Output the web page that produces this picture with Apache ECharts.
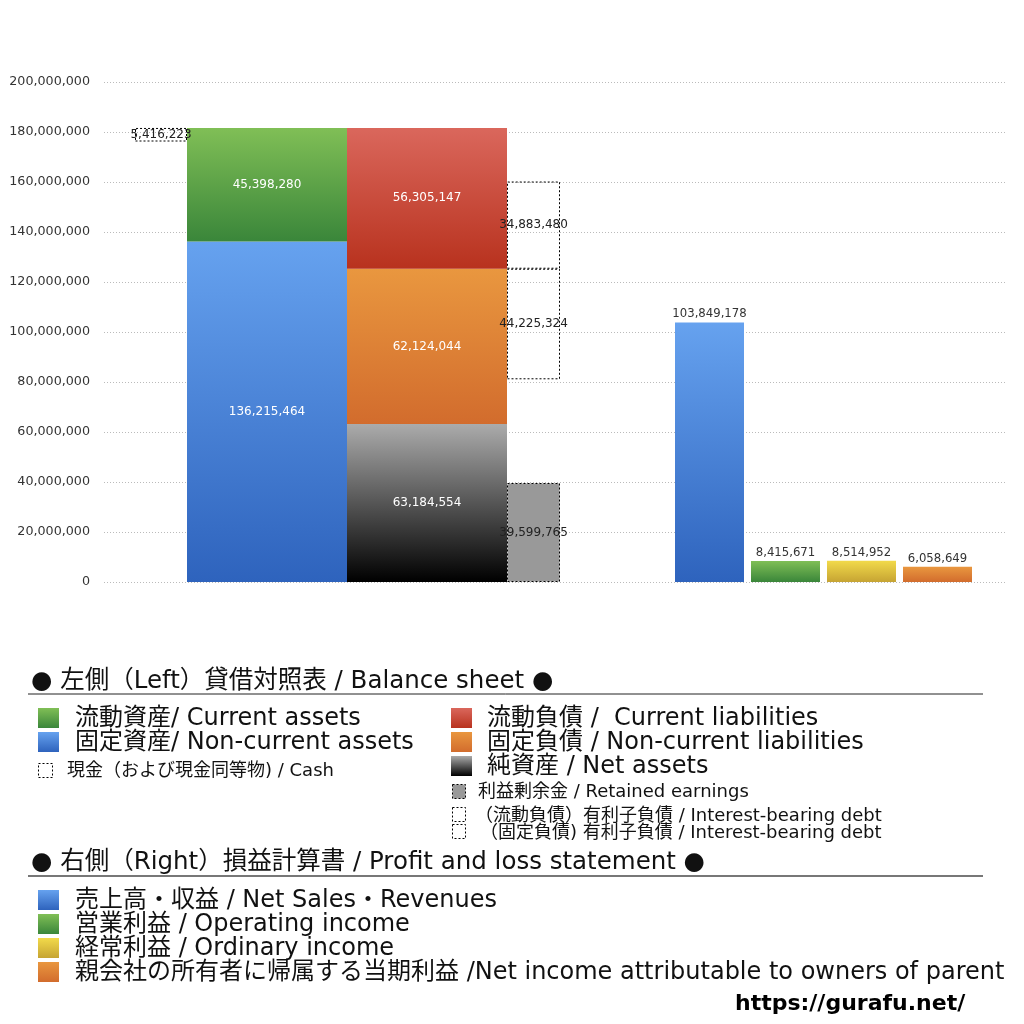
<!DOCTYPE html>
<html><head><meta charset="utf-8">
<script src="https://cdn.jsdelivr.net/npm/echarts@6/dist/echarts.min.js"></script>
<style>html,body{margin:0;padding:0;background:#fff}#c{width:1024px;height:1024px}</style>
</head><body><div id="c"></div>
<script>
// ---- Data ----
const yTicks = [0, 20000000, 40000000, 60000000, 80000000, 100000000, 120000000, 140000000, 160000000, 180000000, 200000000];
const bsCategory = ['貸借対照表'];
const currentAssets = 45398280;
const nonCurrentAssets = 136215464;
const cash = 5416223;
const currentLiabilities = 56305147;
const nonCurrentLiabilities = 62124044;
const netAssets = 63184554;
const retainedEarnings = 39599765;
const currentDebt = 34883480;
const nonCurrentDebt = 44225324;
const plCategories = ['売上高・収益', '営業利益', '経常利益', '親会社の所有者に帰属する当期利益'];
const plValues = [103849178, 8415671, 8514952, 6058649];

const legendBS = [
  '● 左側（Left）貸借対照表 / Balance sheet ●',
  '流動資産/ Current assets', '固定資産/ Non-current assets', '現金（および現金同等物) / Cash',
  '流動負債 /  Current liabilities', '固定負債 / Non-current liabilities', '純資産 / Net assets',
  '利益剰余金 / Retained earnings', '（流動負債）有利子負債 / Interest-bearing debt', '（固定負債) 有利子負債 / Interest-bearing debt'
];
const legendPL = [
  '● 右側（Right）損益計算書 / Profit and loss statement ●',
  '売上高・収益 / Net Sales・Revenues', '営業利益 / Operating income', '経常利益 / Ordinary income',
  '親会社の所有者に帰属する当期利益 /Net income attributable to owners of parent'
];
const siteUrl = 'https://gurafu.net/';

// ---- Styles ----
const NFONT = '"DejaVu Sans", "Noto Sans", sans-serif';
const LFONT = '"DejaVu Sans", "Noto Sans CJK JP", sans-serif';
const grad = (a, b) => new echarts.graphic.LinearGradient(0, 0, 0, 1, [{offset: 0, color: a}, {offset: 1, color: b}]);
const C = {
  green: () => grad('#80bf56', '#3a863a'),
  blue: () => grad('#66a2ef', '#2e63bd'),
  red: () => grad('#da675c', '#b8321e'),
  orange: () => grad('#e9973f', '#d26c2d'),
  black: () => grad('#ababab', '#000000'),
  yellow: () => grad('#f2da4a', '#c6a433')
};
const fmt = v => Number(v).toLocaleString('en-US');
const TOTAL = nonCurrentAssets + currentAssets;

const chart = echarts.init(document.getElementById('c'), null, {renderer: 'canvas'});

const whiteLabel = {show: true, position: 'inside', color: '#fff', fontSize: 12, fontFamily: NFONT, formatter: p => fmt(p.value)};
const darkLabel = {show: true, position: 'inside', color: '#222', fontSize: 12, fontFamily: NFONT, formatter: p => fmt(p.value)};
const dotted = {color: 'rgba(0,0,0,0)', borderColor: '#000', borderWidth: 1, borderType: [2, 2]};
const none = {color: 'rgba(0,0,0,0)'};

function bsBar(name, stack, width, value, itemStyle, label) {
  return {
    type: 'bar', name, stack, xAxisIndex: 1, yAxisIndex: 1,
    barWidth: width, barGap: '0%', data: [value], itemStyle,
    label: label || {show: false}, emphasis: {disabled: true}, silent: true
  };
}

const W_SIDE = 52, W_MAIN = 160, W_DEBT = 53;
const series = [
  bsBar('cashBase', 'cash', W_SIDE, TOTAL - cash, none),
  bsBar('cash', 'cash', W_SIDE, cash, dotted, darkLabel),
  bsBar('nonCurrentAssets', 'assets', W_MAIN, nonCurrentAssets, {color: C.blue()}, whiteLabel),
  bsBar('currentAssets', 'assets', W_MAIN, currentAssets, {color: C.green()}, whiteLabel),
  bsBar('netAssets', 'liab', W_MAIN, netAssets, {color: C.black()}, whiteLabel),
  bsBar('nonCurrentLiabilities', 'liab', W_MAIN, nonCurrentLiabilities, {color: C.orange()}, whiteLabel),
  bsBar('currentLiabilities', 'liab', W_MAIN, currentLiabilities, {color: C.red()}, whiteLabel),
  bsBar('retainedEarnings', 'debt', W_DEBT, retainedEarnings, Object.assign({}, dotted, {color: '#999'}), darkLabel),
  bsBar('debtBase', 'debt', W_DEBT, netAssets + nonCurrentLiabilities - nonCurrentDebt - retainedEarnings, none),
  bsBar('nonCurrentDebt', 'debt', W_DEBT, nonCurrentDebt, dotted, darkLabel),
  bsBar('currentDebt', 'debt', W_DEBT, currentDebt, dotted, darkLabel),
  {
    type: 'bar', name: 'PL', xAxisIndex: 2, yAxisIndex: 2, barWidth: 69, silent: true,
    data: plValues.map((v, i) => ({value: v, itemStyle: {color: [C.blue, C.green, C.yellow, C.orange][i]()}})),
    label: {show: true, position: 'top', distance: 2, color: '#333', fontSize: 11.7, fontFamily: NFONT, formatter: p => fmt(p.value)}
  }
];

const yBase = {type: 'value', min: yTicks[0], max: yTicks[yTicks.length - 1], interval: yTicks[1] - yTicks[0]};

// ---- Legend graphics ----
const g = [];
function txt(x, y, s, size, extra) {
  g.push({type: 'text', left: x, top: y - size * 0.42, style: Object.assign({text: s, fontSize: size, fontFamily: LFONT, fill: '#111'}, extra || {})});
}
function sq(x, y, w, h, fill, dot) {
  g.push({type: 'rect', left: x, top: y, shape: {width: w, height: h},
    style: {fill: fill, stroke: dot ? '#000' : null, lineWidth: dot ? 1 : 0, lineDash: dot ? [2, 2] : null}});
}
function line(x1, x2, y, color, w) {
  g.push({type: 'line', shape: {x1, y1: y, x2, y2: y}, style: {stroke: color, lineWidth: w}});
}
const BIG = 24, SMALL = 18, HEAD = 24.5;
txt(31, 680, legendBS[0], HEAD);
line(28, 983, 694, '#222', 1);
sq(38, 708, 21, 20, C.green()); txt(75, 717, legendBS[1], BIG);
sq(38, 732, 21, 20, C.blue()); txt(75, 741, legendBS[2], BIG);
sq(38, 763, 14, 14, '#fff', true); txt(67, 770, legendBS[3], SMALL);
sq(451, 708, 21, 20, C.red()); txt(487, 717, legendBS[4], BIG);
sq(451, 732, 21, 20, C.orange()); txt(487, 741, legendBS[5], BIG);
sq(451, 756, 21, 20, C.black()); txt(487, 765, legendBS[6], BIG);
sq(452, 784, 13, 14, '#999', true); txt(478, 791, legendBS[7], SMALL);
sq(452, 807, 13, 14, '#fff', true); txt(475, 815, legendBS[8], SMALL);
sq(452, 824, 13, 14, '#fff', true); txt(480, 832, legendBS[9], SMALL);
txt(31, 861, legendPL[0], HEAD);
line(28, 983, 876, '#777', 2);
[C.blue, C.green, C.yellow, C.orange].forEach((c, i) => {
  sq(38, 890 + i * 24, 21, 20, c());
  txt(75, 899 + i * 24, legendPL[i + 1], BIG);
});
txt(735, 1003, siteUrl, 22, {fontWeight: 'bold', fill: '#000'});

chart.setOption({
  animation: false,
  backgroundColor: '#fff',
  grid: [
    {left: 104, right: 17, top: 82, height: 500},
    {left: 135, width: 425, top: 82, height: 500},
    {left: 671.5, width: 304, top: 82, height: 500}
  ],
  xAxis: [
    {type: 'category', gridIndex: 0, data: ['all'], show: false},
    {type: 'category', gridIndex: 1, data: bsCategory, show: false},
    {type: 'category', gridIndex: 2, data: plCategories, show: false}
  ],
  yAxis: [
    Object.assign({gridIndex: 0, axisLine: {show: false}, axisTick: {show: false},
      axisLabel: {color: '#333', fontSize: 12.7, fontFamily: NFONT, margin: 14, padding: [4, 0, 0, 0], formatter: v => fmt(v)},
      splitLine: {show: true, lineStyle: {color: '#bbb', type: [1, 2], width: 1}}}, yBase),
    Object.assign({gridIndex: 1, show: false, splitLine: {show: false}}, yBase),
    Object.assign({gridIndex: 2, show: false, splitLine: {show: false}}, yBase)
  ],
  series,
  graphic: g
});
</script></body></html>
